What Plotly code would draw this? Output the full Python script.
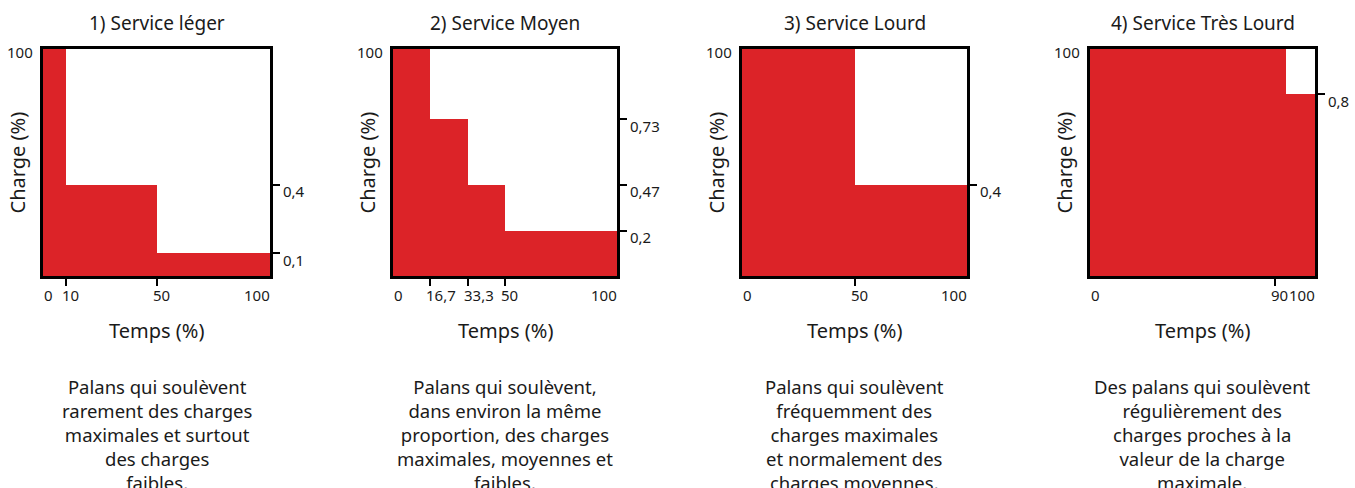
import plotly.graph_objects as go

# ---------------- data ----------------
titles = ["1) Service léger", "2) Service Moyen", "3) Service Lourd", "4) Service Très Lourd"]

# step edges along "Temps (%)" and the load level of each step (fraction of max load)
edges_1 = [0, 10, 50, 100]
heights_1 = [1.0, 0.4, 0.1]
edges_2 = [0, 16.7, 33.3, 50, 100]
heights_2 = [1.0, 0.69, 0.40, 0.20]
edges_3 = [0, 50, 100]
heights_3 = [1.0, 0.4]
edges_4 = [0, 87, 100]
heights_4 = [1.0, 0.8]

# x tick labels (Temps %)
xtick_vals_1 = [0, 10, 50, 100]
xtick_text_1 = ["0", "10", "50", "100"]
xtick_vals_2 = [0, 16.7, 33.3, 50, 100]
xtick_text_2 = ["0", "16,7", "33,3", "50", "100"]
xtick_vals_3 = [0, 50, 100]
xtick_text_3 = ["0", "50", "100"]
xtick_vals_4 = [0, 82, 100]
xtick_text_4 = ["0", "90", "100"]

# right-hand y tick labels (Charge)
ytick_text_1 = ["0,4", "0,1"]
ytick_text_2 = ["0,73", "0,47", "0,2"]
ytick_text_3 = ["0,4"]
ytick_text_4 = ["0,8"]

descriptions = [
    ["Palans qui soulèvent", "rarement des charges", "maximales et surtout", "des charges", "faibles."],
    ["Palans qui soulèvent,", "dans environ la même", "proportion, des charges", "maximales, moyennes et", "faibles."],
    ["Palans qui soulèvent", "fréquemment des", "charges maximales", "et normalement des", "charges moyennes."],
    ["Des palans qui soulèvent", "régulièrement des", "charges proches à la", "valeur de la charge", "maximale."],
]

edges = [edges_1, edges_2, edges_3, edges_4]
heights = [heights_1, heights_2, heights_3, heights_4]
xtick_vals = [xtick_vals_1, xtick_vals_2, xtick_vals_3, xtick_vals_4]
xtick_texts = [xtick_text_1, xtick_text_2, xtick_text_3, xtick_text_4]
ytick_texts = [ytick_text_1, ytick_text_2, ytick_text_3, ytick_text_4]

# ---------------- style / layout ----------------
W, H = 1355, 488
RED = "#DC2328"
TXT = "#1a1a1a"
FONT = "Noto Sans"
TICK_SIZE = 15
panel_px = [(43, 270), (393, 617), (742, 967), (1090, 1315)]
top_px, bot_px = 49, 276
ydom = [1 - bot_px / H, 1 - top_px / H]

fig = go.Figure()
layout = dict(
    width=W, height=H,
    margin=dict(l=0, r=0, t=0, b=0),
    paper_bgcolor="white", plot_bgcolor="white",
    showlegend=False,
    font=dict(family=FONT, color=TXT, size=TICK_SIZE),
    bargap=0,
)
annotations = []

for i in range(4):
    n = "" if i == 0 else str(i + 1)
    xa, ya = "x" + n, "y" + n
    e = edges[i]
    h = heights[i]
    lefts = e[:-1]
    widths = [e[k + 1] - e[k] for k in range(len(e) - 1)]
    fig.add_trace(go.Bar(
        x=lefts, y=h, width=widths, offset=0, base=0,
        marker=dict(color=RED, line=dict(width=0)),
        xaxis=xa, yaxis=ya, hoverinfo="skip", showlegend=False,
    ))

    x0, x1 = panel_px[i]
    xd = [x0 / W, x1 / W]
    interior = [v for v in xtick_vals[i] if 0 < v < 100]
    layout["xaxis" + n] = dict(
        domain=xd, anchor=ya, range=[0, 100],
        showgrid=False, zeroline=False,
        showline=True, linecolor="black", linewidth=3, mirror=True,
        ticks="outside", tickvals=interior, ticklen=7, tickwidth=1.5,
        tickcolor="black", showticklabels=False, fixedrange=True,
    )
    layout["yaxis" + n] = dict(
        domain=ydom, anchor=xa, range=[0, 1], side="right",
        showgrid=False, zeroline=False,
        showline=True, linecolor="black", linewidth=3, mirror=True,
        ticks="outside", tickvals=h[1:], ticktext=ytick_texts[i],
        ticklen=7, tickwidth=1.5, tickcolor="black",
        ticklabelshift=7, ticklabelstandoff=0,
        tickfont=dict(size=TICK_SIZE, color=TXT, family=FONT), fixedrange=True,
    )

    # x tick labels
    nlab = len(xtick_vals[i])
    for k, (v, t) in enumerate(zip(xtick_vals[i], xtick_texts[i])):
        last = k == nlab - 1
        first = k == 0
        annotations.append(dict(
            x=v, xref=xa, y=0, yref=ya, text=t, showarrow=False,
            xanchor="right" if last else "left", yanchor="top",
            xshift=1 if last else (0 if first else -5), yshift=-8,
            borderpad=0,
            font=dict(size=TICK_SIZE, color=TXT, family=FONT),
        ))
    # "100" at top-left
    annotations.append(dict(
        x=0, xref=xa, y=1, yref=ya, text="100", showarrow=False,
        xanchor="right", yanchor="top", xshift=-8, yshift=9,
        font=dict(size=TICK_SIZE, color=TXT, family=FONT),
    ))
    cx = (x0 + x1) / 2 / W
    # title
    annotations.append(dict(
        x=cx, xref="paper", y=1 - 23 / H, yref="paper", text=titles[i],
        showarrow=False, xanchor="center", yanchor="middle",
        font=dict(size=19, color=TXT, family=FONT),
    ))
    # x axis title
    annotations.append(dict(
        x=cx, xref="paper", y=1 - 330 / H, yref="paper", text="Temps (%)",
        showarrow=False, xanchor="center", yanchor="middle",
        font=dict(size=20, color=TXT, family=FONT),
    ))
    # y axis title
    annotations.append(dict(
        x=(x0 - 26) / W, xref="paper", y=sum(ydom) / 2, yref="paper",
        text="Charge (%)", textangle=-90, showarrow=False,
        xanchor="center", yanchor="middle",
        font=dict(size=20, color=TXT, family=FONT),
    ))
    # description
    annotations.append(dict(
        x=cx, xref="paper", y=1 - 372 / H, yref="paper",
        text="<br>".join(descriptions[i]), showarrow=False,
        xanchor="center", yanchor="top", align="center",
        font=dict(size=18.5, color=TXT, family=FONT),
    ))

layout["annotations"] = annotations
fig.update_layout(**layout)
fig.write_html(
    "out.html",
    config={"displayModeBar": False},
    post_script="document.body.style.margin='0';document.body.style.padding='0';",
)
